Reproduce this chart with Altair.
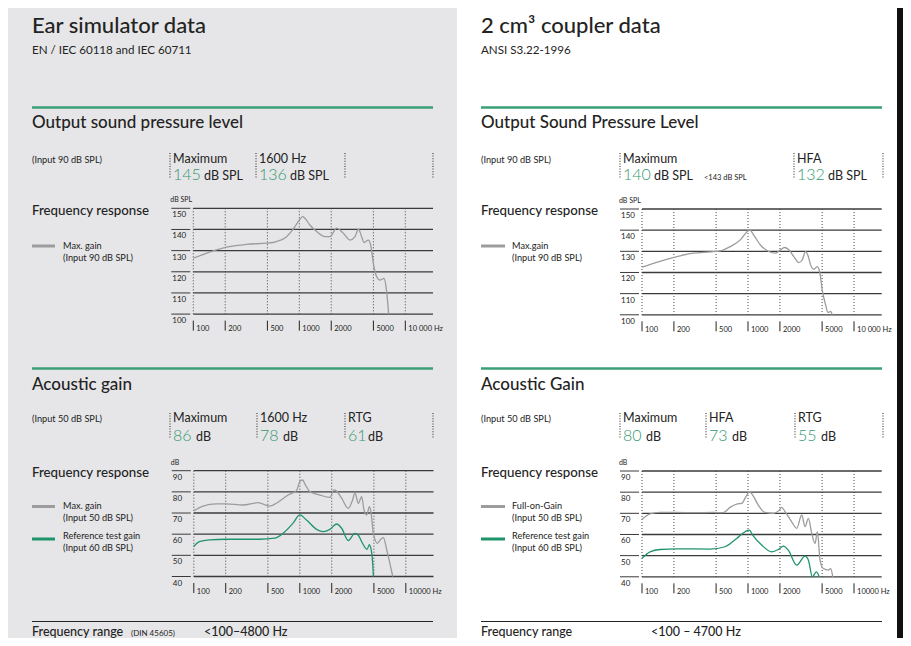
import altair as alt
import pandas as pd

OX = 8  # page margin offset
FONT = "Lato"
INK = "#232323"
GREEN_TXT = "#35996f"
GREEN_LINE = "#1f946a"
GRAY_LINE = "#9c9c9c"
GRID = "#3a3a3a"
PANEL_BG = "#e6e6e8"
HW = 500  # heading weight

# ---------------- data ----------------
tick_freqs = [100, 200, 500, 1000, 2000, 5000, 10000]
ospl_xlabels = ["100", "200", "500", "1000", "2000", "5000", "10 000 Hz"]
gain_xlabels = ["100", "200", "500", "1000", "2000", "5000", "10000 Hz"]
ospl_yticks = [100, 110, 120, 130, 140, 150]
gain_yticks = [40, 50, 60, 70, 80, 90]

ear_ospl_freq = [100, 206, 318, 492, 611, 759, 909, 1000, 1075, 1130, 1258, 1458, 1747, 1946,
                 2250, 2600, 3004, 3352, 3604, 3875, 4077, 4478, 4710, 4993, 5286, 5767, 6294, 6575, 6966]
ear_ospl_db = [126.4, 131.6, 133.0, 133.5, 134.3, 136.6, 141.3, 144.5, 146.1, 145.3, 142.1, 139.0, 136.6, 136.6,
               140.6, 138.2, 135.0, 136.6, 140.1, 136.6, 133.8, 135.0, 132.7, 124.0, 118.5, 116.1, 116.9, 113.0, 100.0]

ear_max_freq = [100, 122, 163, 202, 291, 404, 520, 601, 776, 929, 1000, 1060, 1132, 1244, 1546, 1922, 2098,
                2195, 2479, 2864, 3148, 3313, 3563, 3834, 4035, 4276, 4530, 4680, 4945, 5397, 5800, 6145, 6606, 7530]
ear_max_db = [71.0, 73.3, 74.3, 74.3, 73.8, 74.9, 73.3, 74.6, 78.5, 80.6, 84.8, 85.6, 83.2, 80.1, 78.5, 77.4, 80.9,
              80.6, 77.0, 72.2, 76.2, 79.6, 74.6, 77.7, 71.4, 69.1, 73.0, 70.7, 60.4, 55.7, 57.6, 58.4, 52.6, 40.0]

ear_ref_freq = [100, 113, 141, 202, 418, 579, 695, 864, 1000, 1157, 1439, 1663, 1922, 2223, 2479, 2864,
                3313, 3563, 3972, 4300, 4530, 4800, 4945]
ear_ref_db = [54.2, 56.5, 57.3, 57.6, 57.6, 58.1, 60.4, 65.2, 69.1, 66.7, 62.3, 61.2, 62.3, 64.8, 62.8, 57.0,
              60.4, 59.5, 55.0, 52.8, 55.0, 50.0, 40.0]

cpl_ospl_freq = [100, 148, 213, 306, 440, 548, 680, 846, 979, 1037, 1132, 1309, 1570, 1817, 2025, 2208, 2427,
                 2706, 3016, 3243, 3490, 3666, 3891, 4180, 4497, 4767, 5010, 5393, 5676, 6010, 6234]
cpl_ospl_db = [122.5, 125.2, 127.5, 129.1, 129.7, 130.2, 132.2, 135.4, 139.3, 140.1, 137.7, 133.0, 129.9, 129.1,
               130.7, 131.8, 130.7, 127.5, 124.7, 125.9, 129.9, 128.3, 123.6, 121.5, 122.8, 119.7, 111.8, 104.7,
               101.1, 101.6, 100.0]

cpl_fog_freq = [100, 119, 148, 212, 305, 471, 585, 676, 782, 872, 957, 1030, 1107, 1251, 1445, 1733, 1976, 2079,
                2235, 2582, 2879, 3210, 3450, 3710, 3990, 4290, 4510, 4780, 5140, 5730, 6030, 6300]
cpl_fog_db = [67.1, 69.7, 70.4, 70.4, 70.3, 70.4, 70.3, 72.8, 74.4, 74.7, 77.9, 80.2, 78.6, 73.9, 70.4, 70.0, 71.5,
              72.8, 70.8, 66.0, 62.9, 69.2, 63.7, 67.6, 60.5, 55.8, 61.3, 47.9, 43.9, 43.2, 43.9, 40.0]

cpl_ref_freq = [100, 119, 148, 212, 438, 607, 782, 937, 1030, 1107, 1346, 1671, 1932, 2153, 2399, 2879, 3450,
                3710, 4050, 4400, 4700]
cpl_ref_db = [48.7, 51.8, 52.9, 53.2, 53.1, 54.2, 58.1, 61.3, 62.1, 59.7, 55.0, 51.8, 52.9, 54.5, 52.6, 45.5,
              49.8, 47.9, 40.0, 42.3, 40.0]

ear_ospl_values = ["145", "136"]
ear_gain_values = ["86", "78", "61"]
cpl_ospl_values = ["140", "132"]
cpl_gain_values = ["80", "73", "55"]

# ---------------- helpers ----------------
one = pd.DataFrame({"k": [0]})
layers = []


def P(v):
    return v - OX


def txt(x, y, s, size=9, color=INK, weight=400, align="left"):
    layers.append(
        alt.Chart(one).mark_text(text=s, align=align, baseline="alphabetic", font=FONT,
                                 fontSize=size, fontWeight=weight, color=color)
        .encode(x=alt.value(P(x)), y=alt.value(P(y)))
    )


def rule(x1, y1, x2, y2, color=INK, width=1.0, dash=None):
    kw = dict(color=color, strokeWidth=width)
    if dash:
        kw["strokeDash"] = dash
    layers.append(
        alt.Chart(one).mark_rule(**kw).encode(
            x=alt.value(P(x1)), x2=alt.value(P(x2)), y=alt.value(P(y1)), y2=alt.value(P(y2)))
    )


def rect(x1, y1, x2, y2, color):
    layers.append(
        alt.Chart(one).mark_rect(color=color).encode(
            x=alt.value(max(0, P(x1))), x2=alt.value(P(x2)),
            y=alt.value(max(0, P(y1))), y2=alt.value(P(y2)))
    )


def panel(x0, ytop, lo, hi, yticks, xlabels, unit, series):
    xr = 239.7
    yb = ytop + 105.8
    xs = alt.Scale(type="log", domain=[100, 18240], range=[P(x0), P(x0 + xr)])
    ys = alt.Scale(domain=[lo, hi], range=[P(yb), P(ytop)])
    gdf = pd.DataFrame({"v": yticks, "lab": [str(t) for t in yticks]})
    fdf = pd.DataFrame({"f": tick_freqs, "lab": xlabels})
    layers.append(alt.Chart(gdf).mark_rule(color=GRID, strokeWidth=1.3).encode(
        y=alt.Y("v:Q", scale=ys, axis=None), x=alt.value(P(x0)), x2=alt.value(P(x0 + xr))))
    layers.append(alt.Chart(gdf).mark_rule(color=GRID, strokeWidth=1.0).encode(
        y=alt.Y("v:Q", scale=ys, axis=None), x=alt.value(P(x0 - 22)), x2=alt.value(P(x0 - 3))))
    layers.append(alt.Chart(gdf).mark_text(align="left", baseline="alphabetic", dy=9, font=FONT,
                                           fontSize=8, color=INK).encode(
        y=alt.Y("v:Q", scale=ys, axis=None), x=alt.value(P(x0 - 21)), text="lab:N"))
    layers.append(alt.Chart(fdf).mark_rule(color="#444444", strokeWidth=1, strokeDash=[1, 2]).encode(
        x=alt.X("f:Q", scale=xs, axis=None), y=alt.value(P(ytop)), y2=alt.value(P(yb))))
    layers.append(alt.Chart(fdf).mark_rule(color=INK, strokeWidth=1).encode(
        x=alt.X("f:Q", scale=xs, axis=None), y=alt.value(P(yb + 6.5)), y2=alt.value(P(yb + 16.5))))
    layers.append(alt.Chart(fdf).mark_text(align="left", baseline="alphabetic", dx=3, font=FONT,
                                           fontSize=7.5, color=INK).encode(
        x=alt.X("f:Q", scale=xs, axis=None), y=alt.value(P(yb + 17)), text="lab:N"))
    txt(x0 - 23, ytop - 6, unit, size=7)
    for freqs, vals, color in series:
        df = pd.DataFrame({"f": freqs, "v": vals})
        layers.append(alt.Chart(df).mark_line(color=color, strokeWidth=1.3, interpolate="monotone").encode(
            x=alt.X("f:Q", scale=xs, axis=None), y=alt.Y("v:Q", scale=ys, axis=None)))


def header_cell(x, y_lab, y_val, label, value, unit, unit_dx, note=None, note_x=None):
    txt(x, y_lab, label, size=12.5)
    txt(x, y_val, value, size=16, weight=300, color=GREEN_TXT)
    txt(x + unit_dx, y_val, unit, size=12.5)
    if note:
        txt(note_x, y_val, note, size=7.5)


# ---------------- backgrounds ----------------
rect(0, 0, 457, 646, PANEL_BG)
rect(897, 0, 903, 646, "#111111")

# ---------------- left column: ear simulator ----------------
L = 32
txt(L, 33, "Ear simulator data", size=22, weight=HW)
txt(L, 54, "EN / IEC 60118 and IEC 60711", size=11.6)
rule(L, 107.5, 433, 107.5, color="#3a9f78", width=2.5)
txt(L, 128, "Output sound pressure level", size=17, weight=HW)
txt(L, 162.5, "(Input 90 dB SPL)", size=9.2)
for sx in [170, 256, 345, 433]:
    rule(sx, 153, sx, 178, color="#333333", width=1.1, dash=[1, 1.6])
header_cell(173, 162.5, 180, "Maximum", ear_ospl_values[0], "dB SPL", 31)
header_cell(259, 162.5, 180, "1600 Hz", ear_ospl_values[1], "dB SPL", 31)
txt(L, 215, "Frequency response", size=13.3, weight=HW)
rule(L, 246, 55, 246, color=GRAY_LINE, width=3)
txt(63, 248.5, "Max. gain", size=9.2)
txt(63, 260.5, "(Input 90 dB SPL)", size=9.2)
panel(193.3, 208.3, 100, 150, ospl_yticks, ospl_xlabels, "dB SPL",
      [(ear_ospl_freq, ear_ospl_db, GRAY_LINE)])

rule(L, 368.5, 433, 368.5, color="#3a9f78", width=2.5)
txt(L, 389.5, "Acoustic gain", size=17, weight=HW)
txt(L, 422, "(Input 50 dB SPL)", size=9.2)
for sx in [170, 257, 345, 433]:
    rule(sx, 413, sx, 439, color="#333333", width=1.1, dash=[1, 1.6])
header_cell(173, 422, 440.5, "Maximum", ear_gain_values[0], "dB", 23)
header_cell(260, 422, 440.5, "1600 Hz", ear_gain_values[1], "dB", 23)
header_cell(348, 422, 440.5, "RTG", ear_gain_values[2], "dB", 20)
txt(L, 476.5, "Frequency response", size=13.3, weight=HW)
rule(L, 506.5, 55, 506.5, color=GRAY_LINE, width=3)
txt(63, 508.5, "Max. gain", size=9.2)
txt(63, 520.5, "(Input 50 dB SPL)", size=9.2)
rule(L, 539, 55, 539, color=GREEN_LINE, width=3)
txt(63, 538.5, "Reference test gain", size=9.2)
txt(63, 550.5, "(Input 60 dB SPL)", size=9.2)
panel(193.8, 470.7, 40, 90, gain_yticks, gain_xlabels, "dB",
      [(ear_max_freq, ear_max_db, GRAY_LINE), (ear_ref_freq, ear_ref_db, GREEN_LINE)])

rule(L, 621.5, 433, 621.5, color=INK, width=1)
txt(L, 635.5, "Frequency range", size=12.5, weight=HW)
txt(131, 635.5, "(DIN 45605)", size=8)
txt(204, 635.5, "<100\u20134800 Hz", size=12.5, weight=HW)

# ---------------- right column: 2 cc coupler ----------------
R = 481
txt(R, 33, "2 cm\u00b3 coupler data", size=22, weight=HW)
txt(R, 54, "ANSI S3.22-1996", size=11.6)
rule(R, 107.5, 882, 107.5, color="#3a9f78", width=2.5)
txt(R, 128, "Output Sound Pressure Level", size=17, weight=HW)
txt(R, 162.5, "(Input 90 dB SPL)", size=9.2)
for sx in [620, 794, 883]:
    rule(sx, 153, sx, 178, color="#333333", width=1.1, dash=[1, 1.6])
header_cell(623, 162.5, 180, "Maximum", cpl_ospl_values[0], "dB SPL", 31,
            note="<143 dB SPL", note_x=704)
header_cell(797, 162.5, 180, "HFA", cpl_ospl_values[1], "dB SPL", 31)
txt(R, 215, "Frequency response", size=13.3, weight=HW)
rule(R, 246, 505, 246, color=GRAY_LINE, width=3)
txt(512, 248.5, "Max.gain", size=9.2)
txt(512, 260.5, "(Input 90 dB SPL)", size=9.2)
panel(642, 209, 100, 150, ospl_yticks, ospl_xlabels, "dB SPL",
      [(cpl_ospl_freq, cpl_ospl_db, GRAY_LINE)])

rule(R, 368.5, 882, 368.5, color="#3a9f78", width=2.5)
txt(R, 389.5, "Acoustic Gain", size=17, weight=HW)
txt(R, 422, "(Input 50 dB SPL)", size=9.2)
for sx in [620, 706, 795, 883]:
    rule(sx, 413, sx, 439, color="#333333", width=1.1, dash=[1, 1.6])
header_cell(623, 422, 440.5, "Maximum", cpl_gain_values[0], "dB", 23)
header_cell(709, 422, 440.5, "HFA", cpl_gain_values[1], "dB", 23)
header_cell(798, 422, 440.5, "RTG", cpl_gain_values[2], "dB", 23)
txt(R, 476.5, "Frequency response", size=13.3, weight=HW)
rule(R, 506.5, 505, 506.5, color=GRAY_LINE, width=3)
txt(512, 508.5, "Full-on-Gain", size=9.2)
txt(512, 520.5, "(Input 50 dB SPL)", size=9.2)
rule(R, 539, 505, 539, color=GREEN_LINE, width=3)
txt(512, 538.5, "Reference test gain", size=9.2)
txt(512, 550.5, "(Input 60 dB SPL)", size=9.2)
panel(642, 471, 40, 90, gain_yticks, gain_xlabels, "dB",
      [(cpl_fog_freq, cpl_fog_db, GRAY_LINE), (cpl_ref_freq, cpl_ref_db, GREEN_LINE)])

rule(R, 621.5, 882, 621.5, color=INK, width=1)
txt(R, 635.5, "Frequency range", size=12.5, weight=HW)
txt(651, 635.5, "<100 \u2013 4700 Hz", size=12.5, weight=HW)

chart = (
    alt.layer(*layers)
    .resolve_scale(x="independent", y="independent")
    .properties(width=895, height=630, autosize=alt.AutoSizeParams(type="none"), padding=0)
    .configure_view(stroke=None)
)

chart.save("out.html", embed_options={"renderer": "svg", "actions": False})
